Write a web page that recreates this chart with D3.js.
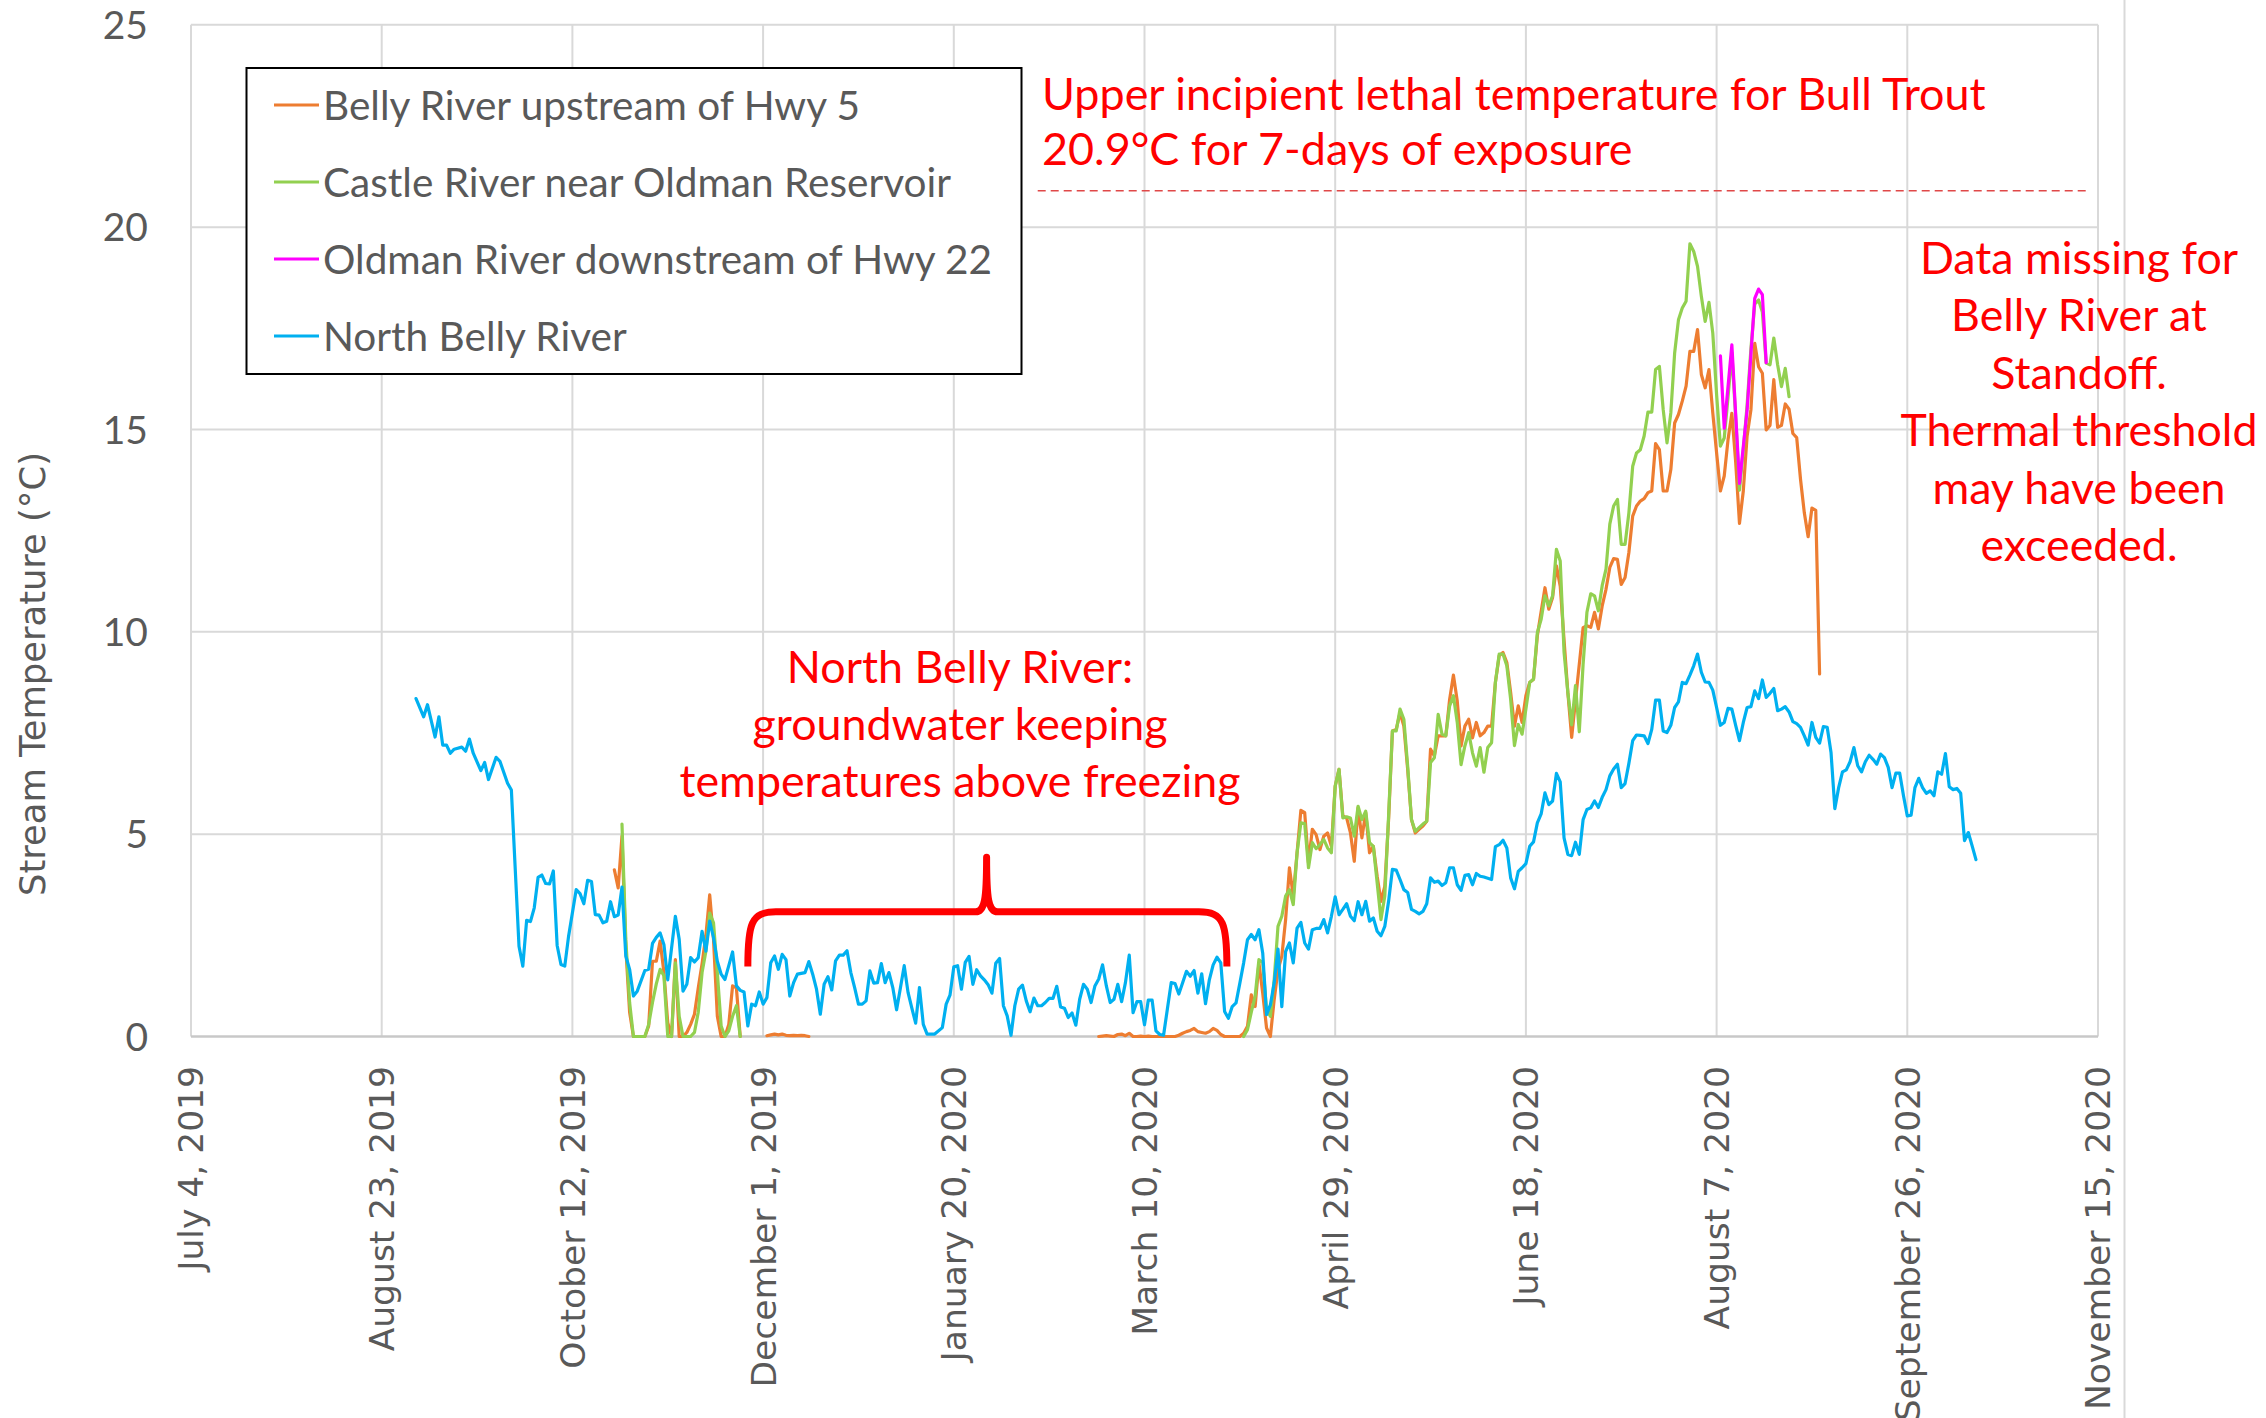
<!DOCTYPE html>
<html>
<head>
<meta charset="utf-8">
<script src="https://cdn.jsdelivr.net/npm/d3@7"></script>
<style>
  html, body { margin: 0; padding: 0; background: #ffffff; }
  svg { display: block; }
</style>
</head>
<body>
<svg id="chart" width="2266" height="1418"></svg>
<script>
// ---------------- DATA ----------------
// Day offsets are days after July 4, 2019; values are stream temperature (°C).
const baseDateUTC = Date.UTC(2019, 6, 4);

const seriesNames = [
  "Belly River upstream of Hwy 5",
  "Castle River near Oldman Reservoir",
  "Oldman River downstream of Hwy 22",
  "North Belly River"
];
const seriesColors = ["#ED7D31", "#92D050", "#FF00FF", "#00B0F0"];

const xTickDays = [0, 50, 100, 150, 200, 250, 300, 350, 400, 450, 500];
const xTickLabels = ["July 4, 2019", "August 23, 2019", "October 12, 2019", "December 1, 2019",
  "January 20, 2020", "March 10, 2020", "April 29, 2020", "June 18, 2020",
  "August 7, 2020", "September 26, 2020", "November 15, 2020"];
const yTicks = [0, 5, 10, 15, 20, 25];
const yTitle = "Stream Temperature (°C)";

const thresholdValue = 20.9;
const thresholdDays = [222, 498];

const bellyUpstream = [
  [111,4.12],[112,3.67],[113,4.95],[114,2.2],[115,0.6],[116,0],[117,0],[118,0],[119,0],[120,0.26],
  [121,1.86],[122,1.86],[123,2.36],[124,1.58],[125,0.34],[126,0],[127,1.9],[128,0],[129,0],[130,0.1],
  [131,0.3],[132,0.55],[133,1.2],[134,1.8],[135,2.5],[136,3.5],[137,2.4],[138,0.5],[139,0],[140,0],
  [141,0.3],[142,1.25],[143,1.2],[144,0],[145,null],
  [151,0.02],[152,0.04],[153,0.06],[154,0.04],[155,0.06],[156,0.03],[157,0.02],[158,0.03],[159,0.02],[160,0.03],[161,0.02],[162,0],[163,null],
  [238,0],[239,0.01],[240,0.02],[241,0.01],[242,0],[243,0.05],[244,0.06],[245,0.02],[246,0.08],[247,0],
  [248,0],[249,0.01],[250,0],[251,0.01],[252,0],[253,0],[254,0],[255,0],[256,0],[257,0],[258,0],
  [259,0.03],[260,0.08],[261,0.12],[262,0.15],[263,0.2],[264,0.12],[265,0.1],[266,0.08],[267,0.12],[268,0.2],
  [269,0.15],[270,0.05],[271,0],[272,0],[273,0],[274,0],[275,0],[276,0.08],[277,0.25],[278,1.03],
  [279,0.74],[280,1.82],[281,1.07],[282,0.21],[283,0],[284,0.91],[285,1.65],[286,1.98],[287,2.89],[288,4.17],
  [289,3.47],[290,4.54],[291,5.59],[292,5.53],[293,4.29],[294,5.12],[295,4.99],[296,4.62],[297,4.95],[298,5.03],
  [299,4.7],[300,6.19],[301,6.6],[302,5.45],[303,5.4],[304,5.03],[305,4.33],[306,5.65],[307,4.91],[308,5.53],
  [309,4.54],[310,4.7],[311,3.96],[312,3.34],[313,3.71],[314,5.36],[315,7.55],[316,7.59],[317,8.0],[318,7.67],
  [319,6.6],[320,5.36],[321,5.03],[322,5.12],[323,5.2],[324,5.32],[325,7.1],[326,6.93],[327,7.43],[328,7.43],
  [329,7.43],[330,8.33],[331,8.93],[332,8.29],[333,7.18],[334,7.67],[335,7.84],[336,7.38],[337,7.76],[338,7.43],
  [339,7.51],[340,7.67],[341,7.67],[342,8.75],[343,9.41],[344,9.49],[345,9.24],[346,8.5],[347,7.67],[348,8.17],
  [349,7.76],[350,8.42],[351,8.75],[352,8.83],[353,9.9],[354,10.5],[355,11.09],[356,10.56],[357,10.85],[358,11.63],
  [359,11.13],[360,9.8],[361,8.5],[362,7.39],[363,8.3],[364,9.2],[365,10.1],[366,10.15],[367,10.11],[368,10.48],
  [369,10.07],[370,10.64],[371,11.05],[372,11.59],[373,11.81],[374,11.79],[375,11.17],[376,11.34],[377,11.96],[378,12.86],
  [379,13.11],[380,13.23],[381,13.29],[382,13.44],[383,13.48],[384,14.65],[385,14.5],[386,13.48],[387,13.48],[388,14.01],
  [389,15.16],[390,15.37],[391,15.7],[392,16.07],[393,16.93],[394,16.93],[395,17.47],[396,16.36],[397,16.03],[398,16.48],
  [399,15.41],[400,14.42],[401,13.48],[402,13.85],[403,14.75],[404,15.4],[405,14.2],[406,12.68],[407,13.48],[408,14.84],
  [409,15.49],[410,17.13],[411,16.55],[412,16.39],[413,14.99],[414,15.1],[415,16.23],[416,15.05],[417,15.1],[418,15.63],
  [419,15.5],[420,14.9],[421,14.8],[422,13.77],[423,12.94],[424,12.35],[425,13.06],[426,13.0],[427,8.96]
];

const castleRiver = [
  [113,5.25],[114,2.4],[115,0.84],[116,0],[117,0],[118,0],[119,0],[120,0.3],[121,0.84],[122,1.3],
  [123,1.66],[124,1.5],[125,0],[126,0],[127,1.82],[128,0.5],[129,0],[130,0],[131,0],[132,0.1],
  [133,0.6],[134,1.58],[135,2.11],[136,3.05],[137,2.81],[138,1.58],[139,0.26],[140,0],[141,0.14],[142,0.5],
  [143,0.76],[144,0],[145,null],
  [276,0],[277,0.17],[278,0.6],[279,0.99],[280,1.9],[281,1.82],[282,0.66],[283,0.5],[284,1.4],[285,2.72],
  [286,2.97],[287,3.47],[288,3.63],[289,3.26],[290,4.54],[291,5.28],[292,5.26],[293,4.17],[294,4.79],[295,4.64],
  [296,4.74],[297,4.87],[298,4.66],[299,4.54],[300,6.19],[301,6.6],[302,5.4],[303,5.43],[304,5.4],[305,4.95],
  [306,5.69],[307,5.36],[308,5.57],[309,4.79],[310,4.7],[311,3.8],[312,2.89],[313,3.47],[314,5.45],[315,7.55],
  [316,7.55],[317,8.09],[318,7.84],[319,6.68],[320,5.36],[321,5.07],[322,5.16],[323,5.25],[324,5.32],[325,6.77],
  [326,6.89],[327,7.96],[328,7.47],[329,7.43],[330,8.17],[331,8.42],[332,7.76],[333,6.72],[334,7.18],[335,7.51],
  [336,7.01],[337,6.68],[338,7.14],[339,6.53],[340,7.14],[341,7.26],[342,8.75],[343,9.45],[344,9.45],[345,9.16],
  [346,8.33],[347,7.19],[348,7.71],[349,7.47],[350,8.09],[351,8.75],[352,8.83],[353,9.98],[354,10.31],[355,10.89],
  [356,10.64],[357,10.89],[358,12.04],[359,11.75],[360,9.5],[361,8.5],[362,7.7],[363,8.67],[364,7.53],[365,9.2],
  [366,10.48],[367,10.94],[368,10.89],[369,10.52],[370,11.14],[371,11.55],[372,12.66],[373,13.11],[374,13.27],[375,12.16],
  [376,12.16],[377,12.94],[378,14.09],[379,14.42],[380,14.5],[381,14.84],[382,15.43],[383,15.43],[384,16.48],[385,16.56],
  [386,15.49],[387,14.67],[388,15.41],[389,16.89],[390,17.71],[391,18.0],[392,18.17],[393,19.59],[394,19.4],[395,19.03],
  [396,18.29],[397,17.67],[398,18.14],[399,17.38],[400,15.86],[401,14.59],[402,14.79],[403,15.8],[404,16.9],[405,15.3],
  [406,13.5],[407,14.5],[408,15.6],[409,17.0],[410,18.1],[411,18.2],[412,17.9],[413,16.64],[414,16.6],[415,17.26],
  [416,16.6],[417,16.06],[418,16.51],[419,15.81]
];

const oldmanRiver = [
  [401,16.82],[402,15.03],[404,17.09],[406,13.67],[408,15.48],[410,18.24],[411,18.47],[412,18.33],[413,16.65]
];

const northBelly = [
  [59,8.35],[61,7.9],[62,8.2],[64,7.4],[65,7.9],[66,7.2],[67,7.2],[68,7.0],[69,7.1],[71,7.15],
  [72,7.05],[73,7.35],[74,7.0],[76,6.57],[77,6.77],[78,6.35],[80,6.9],[81,6.8],[83,6.26],[84,6.09],
  [86,2.23],[87,1.74],[88,2.87],[89,2.84],[90,3.18],[91,3.93],[92,3.99],[93,3.78],[94,3.77],[95,4.09],
  [96,2.25],[97,1.78],[98,1.74],[99,2.48],[101,3.63],[102,3.53],[103,3.28],[104,3.86],[105,3.83],[106,3.01],
  [107,3.0],[108,2.81],[109,2.85],[110,3.33],[111,2.96],[112,3.0],[113,3.69],[114,1.99],[115,1.66],[116,1.0],
  [117,1.12],[119,1.63],[120,1.66],[121,2.3],[122,2.45],[123,2.56],[124,2.27],[125,1.4],[127,2.97],[128,2.4],
  [129,1.12],[130,1.29],[131,1.95],[132,1.84],[133,1.95],[134,2.6],[135,2.11],[136,2.85],[137,2.44],[138,1.86],
  [139,1.54],[140,1.41],[142,2.09],[143,1.25],[144,1.14],[145,1.1],[146,0.26],[147,0.8],[148,0.76],[149,1.1],
  [150,0.8],[151,0.96],[152,1.82],[153,1.99],[154,1.66],[155,2.03],[156,1.9],[157,1.0],[158,1.33],[159,1.54],
  [160,1.56],[161,1.58],[162,1.85],[163,1.54],[164,1.17],[165,0.55],[166,1.29],[167,1.48],[168,1.15],[169,1.87],
  [170,2.01],[171,2.01],[172,2.12],[173,1.58],[174,1.21],[175,0.8],[176,0.8],[177,0.88],[178,1.62],[179,1.32],
  [180,1.33],[181,1.8],[182,1.33],[183,1.58],[184,1.21],[185,0.66],[186,1.2],[187,1.75],[188,1.09],[189,0.7],
  [190,0.33],[191,1.21],[192,0.3],[193,0.06],[194,0.06],[195,0.06],[197,0.22],[198,0.8],[199,1.02],[200,1.72],
  [201,1.75],[202,1.17],[203,1.83],[204,1.98],[205,1.29],[206,1.65],[207,1.5],[208,1.4],[209,1.28],[210,1.07],
  [211,1.81],[212,1.93],[213,0.76],[214,0.51],[215,0.03],[216,0.76],[217,1.17],[218,1.27],[219,0.88],[220,0.61],
  [221,0.95],[222,0.76],[223,0.76],[224,0.84],[225,0.94],[226,0.94],[227,1.24],[228,0.73],[229,0.7],[230,0.47],
  [231,0.58],[232,0.28],[233,0.92],[234,1.29],[235,1.17],[236,0.84],[237,1.25],[238,1.42],[239,1.77],[240,1.25],
  [241,0.84],[242,0.92],[243,1.29],[244,0.86],[245,1.33],[246,2.01],[247,0.59],[248,0.86],[249,0.86],[250,0.29],
  [251,0.9],[252,0.9],[253,0.14],[254,0.05],[255,0.03],[256,0.68],[257,1.33],[258,1.31],[259,1.05],[260,1.33],
  [261,1.61],[262,1.49],[263,1.63],[264,1.07],[265,1.55],[266,0.81],[267,1.4],[268,1.77],[269,1.96],[270,1.82],
  [271,0.62],[272,0.45],[273,0.74],[274,0.83],[275,1.32],[276,1.82],[277,2.39],[278,2.52],[279,2.39],[280,2.64],
  [281,2.06],[282,0.54],[283,0.78],[284,1.32],[285,2.16],[286,0.74],[287,2.1],[288,2.31],[289,1.82],[290,2.68],
  [291,2.82],[292,2.31],[293,2.16],[294,2.64],[295,2.67],[296,2.67],[297,2.89],[298,2.56],[299,2.97],[300,3.45],
  [301,3.01],[302,3.14],[303,3.28],[304,2.97],[305,2.86],[306,3.33],[307,3.01],[308,3.34],[309,2.85],[310,2.93],
  [311,2.6],[312,2.49],[313,2.72],[314,3.34],[315,4.13],[316,4.11],[317,3.88],[318,3.63],[319,3.56],[320,3.14],
  [321,3.09],[322,3.03],[323,3.09],[324,3.28],[325,3.92],[326,3.81],[327,3.84],[328,3.73],[329,3.8],[330,4.17],
  [331,4.17],[332,3.75],[333,3.61],[334,3.98],[335,4.0],[336,3.75],[337,4.03],[338,3.96],[339,3.94],[341,3.88],
  [342,4.69],[343,4.74],[344,4.85],[345,4.66],[346,3.92],[347,3.65],[348,4.08],[349,4.17],[350,4.27],[351,4.7],
  [352,4.81],[353,5.28],[354,5.5],[355,6.02],[356,5.73],[357,5.82],[358,6.5],[359,6.29],[360,4.91],[361,4.5],
  [362,4.47],[363,4.8],[364,4.5],[365,5.36],[366,5.61],[367,5.65],[368,5.82],[369,5.66],[370,5.91],[371,6.1],
  [372,6.44],[373,6.61],[374,6.73],[375,6.15],[376,6.25],[377,6.75],[378,7.31],[379,7.45],[380,7.44],[381,7.43],
  [382,7.24],[383,7.59],[384,8.31],[385,8.31],[386,7.55],[387,7.51],[388,7.69],[389,8.13],[390,8.27],[391,8.75],
  [392,8.72],[393,8.93],[394,9.16],[395,9.45],[396,9.0],[397,8.76],[398,8.75],[399,8.56],[400,8.13],[401,7.69],
  [402,7.76],[403,8.11],[404,8.09],[405,7.69],[406,7.31],[407,7.76],[408,8.13],[409,8.15],[410,8.54],[411,8.35],
  [412,8.81],[413,8.38],[414,8.48],[415,8.6],[416,8.05],[417,8.09],[418,8.15],[419,8.02],[420,7.78],[421,7.73],
  [422,7.64],[423,7.43],[424,7.2],[425,7.76],[426,7.39],[427,7.25],[428,7.66],[429,7.64],[430,7.02],[431,5.63],
  [432,6.15],[433,6.54],[434,6.59],[435,6.79],[436,7.14],[437,6.69],[438,6.54],[439,6.79],[440,6.95],[441,6.85],
  [442,6.73],[443,6.98],[444,6.89],[445,6.65],[446,6.15],[447,6.51],[448,6.51],[449,5.95],[450,5.45],[451,5.47],
  [452,6.15],[453,6.38],[454,6.15],[455,6.01],[456,6.07],[457,5.95],[458,6.54],[459,6.48],[460,6.99],[461,6.17],
  [462,6.1],[463,6.13],[464,6.01],[465,4.84],[466,5.04],[467,4.71],[468,4.37]
];

const allSeries = [bellyUpstream, castleRiver, oldmanRiver, northBelly];

// Annotation texts
const thresholdText = ["Upper incipient lethal temperature for Bull Trout", "20.9°C for 7-days of exposure"];
const missingText = ["Data missing for", "Belly River at", "Standoff.", "Thermal threshold", "may have been", "exceeded."];
const groundwaterText = ["North Belly River:", "groundwater keeping", "temperatures above freezing"];
// brace (days / °C)
const braceDays = [146, 208.6, 271.6];
const braceLevels = { bar: 3.08, tip: 4.43, foot: 1.73 };

// ---------------- LAYOUT ----------------
const W = 2266, H = 1418;
const plot = { left: 191, right: 2098, top: 24.8, bottom: 1036.5 };
const gray = "#595959";
const gridColor = "#D9D9D9";
const calibriLike = "Lato, 'Open Sans', sans-serif";
const verdanaLike = "'DejaVu Sans', Verdana, sans-serif";

const svg = d3.select("#chart");
svg.append("rect").attr("width", W).attr("height", H).attr("fill", "#ffffff");

const toDate = d => new Date(baseDateUTC + d * 864e5);
const x = d3.scaleUtc().domain([toDate(0), toDate(500)]).range([plot.left, plot.right]);
const y = d3.scaleLinear().domain([0, 25]).range([plot.bottom, plot.top]);

// outer chart border on right
svg.append("line").attr("x1", 2124.5).attr("x2", 2124.5).attr("y1", 0).attr("y2", H)
  .attr("stroke", gridColor).attr("stroke-width", 2);

// gridlines
const grid = svg.append("g");
grid.selectAll("line.h").data(yTicks.filter(v => v > 0)).join("line")
  .attr("x1", plot.left).attr("x2", plot.right)
  .attr("y1", d => y(d)).attr("y2", d => y(d))
  .attr("stroke", gridColor).attr("stroke-width", 2);
grid.selectAll("line.v").data(xTickDays).join("line")
  .attr("x1", d => x(toDate(d))).attr("x2", d => x(toDate(d)))
  .attr("y1", plot.top).attr("y2", plot.bottom)
  .attr("stroke", gridColor).attr("stroke-width", 2);
// base axis line
svg.append("line").attr("x1", plot.left).attr("x2", plot.right)
  .attr("y1", y(0)).attr("y2", y(0)).attr("stroke", "#C8C8C8").attr("stroke-width", 2.5);

// y tick labels
const yLab = svg.append("g").selectAll("text").data(yTicks).join("text")
  .attr("x", 148).attr("y", d => y(d)).attr("dy", "0.36em")
  .attr("text-anchor", "end").attr("fill", gray)
  .style("font-family", calibriLike).style("font-size", "39px")
  .text(d => d);

// x tick labels
svg.append("g").selectAll("text").data(xTickDays).join("text")
  .attr("transform", (d) => `translate(${x(toDate(d))},1066) rotate(-90)`)
  .attr("text-anchor", "end").attr("dy", "0.36em").attr("fill", gray)
  .style("font-family", verdanaLike).style("font-size", "34.5px")
  .text((d, i) => xTickLabels[i]);

// y title
const yt = svg.append("text")
  .attr("transform", "translate(32,674) rotate(-90)")
  .attr("text-anchor", "middle").attr("dy", "0.36em").attr("fill", gray)
  .style("font-family", verdanaLike).style("font-size", "34px")
  .text(yTitle);

// threshold dashed line
svg.append("line")
  .attr("x1", x(toDate(thresholdDays[0]))).attr("x2", x(toDate(thresholdDays[1])))
  .attr("y1", y(thresholdValue)).attr("y2", y(thresholdValue))
  .attr("stroke", "#E04848").attr("stroke-width", 1.6).attr("stroke-dasharray", "8 5");

// series lines
const line = d3.line()
  .defined(p => p[1] !== null)
  .x(p => x(toDate(p[0])))
  .y(p => y(p[1]));
const clipId = "plotclip";
svg.append("clipPath").attr("id", clipId).append("rect")
  .attr("x", plot.left - 2).attr("y", plot.top - 2)
  .attr("width", plot.right - plot.left + 4).attr("height", plot.bottom - plot.top + 4);
const seriesG = svg.append("g").attr("clip-path", `url(#${clipId})`);
allSeries.forEach((s, i) => {
  seriesG.append("path").datum(s)
    .attr("d", line)
    .attr("fill", "none")
    .attr("stroke", seriesColors[i])
    .attr("stroke-width", 3.2)
    .attr("stroke-linejoin", "round")
    .attr("stroke-linecap", "round");
});

// brace
{
  const xl = x(toDate(braceDays[0])), xm = x(toDate(braceDays[1])), xr = x(toDate(braceDays[2]));
  const yb = y(braceLevels.bar), yt2 = y(braceLevels.tip), yf = y(braceLevels.foot);
  const p = d3.path();
  p.moveTo(xl, yf);
  p.bezierCurveTo(xl, yb + 12, xl + 3, yb, xl + 28, yb);
  p.lineTo(xm - 11, yb);
  p.bezierCurveTo(xm - 2, yb, xm, yb - 12, xm, yt2);
  p.bezierCurveTo(xm, yb - 12, xm + 2, yb, xm + 11, yb);
  p.lineTo(xr - 28, yb);
  p.bezierCurveTo(xr - 3, yb, xr, yb + 12, xr, yf);
  svg.append("path").attr("d", p.toString())
    .attr("fill", "none").attr("stroke", "#FF0000").attr("stroke-width", 7)
    .attr("stroke-linejoin", "round");
}

// helper: fit font size of a group so a reference text reaches a target width
function fitGroup(sel, refNode, targetWidth, baseSize) {
  const w = refNode.getComputedTextLength();
  const fs = baseSize * targetWidth / w;
  sel.style("font-size", fs + "px");
  return fs;
}

// y title fit
fitGroup(yt, yt.node(), 444, 34);

// legend
const legend = svg.append("g");
legend.append("rect").attr("x", 246.5).attr("y", 68).attr("width", 775).attr("height", 306)
  .attr("fill", "#ffffff").attr("stroke", "#000000").attr("stroke-width", 2);
const legY = [105, 182, 259, 336];
seriesNames.forEach((n, i) => {
  legend.append("line").attr("x1", 274).attr("x2", 319).attr("y1", legY[i]).attr("y2", legY[i])
    .attr("stroke", seriesColors[i]).attr("stroke-width", 3.2);
});
const legText = legend.selectAll("text").data(seriesNames).join("text")
  .attr("x", 323).attr("y", (d, i) => legY[i]).attr("dy", "0.36em")
  .attr("fill", gray).style("font-family", calibriLike).style("font-size", "40px")
  .text(d => d);
fitGroup(legText, legText.nodes()[0], 537, 40);

// threshold annotation
const thr = svg.append("g").selectAll("text").data(thresholdText).join("text")
  .attr("x", 1042).attr("y", (d, i) => 110 + i * 55)
  .attr("fill", "#FF0000").style("font-family", calibriLike).style("font-size", "40px")
  .text(d => d);
fitGroup(thr, thr.nodes()[0], 944, 40);

// data-missing annotation
const mis = svg.append("g").selectAll("text").data(missingText).join("text")
  .attr("x", 2079).attr("y", (d, i) => 274 + i * 57.4)
  .attr("text-anchor", "middle")
  .attr("fill", "#FF0000").style("font-family", calibriLike).style("font-size", "40px")
  .text(d => d);
fitGroup(mis, mis.nodes()[3], 357, 40);

// groundwater annotation
const gw = svg.append("g").selectAll("text").data(groundwaterText).join("text")
  .attr("x", 960).attr("y", (d, i) => 683 + i * 57)
  .attr("text-anchor", "middle")
  .attr("fill", "#FF0000").style("font-family", calibriLike).style("font-size", "40px")
  .text(d => d);
fitGroup(gw, gw.nodes()[2], 561, 40);
</script>
